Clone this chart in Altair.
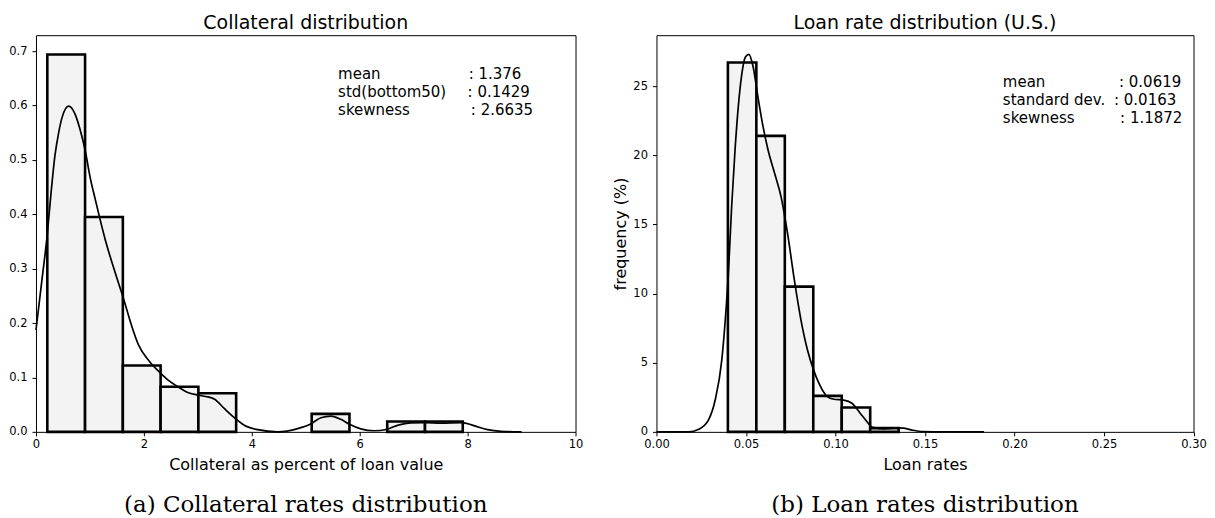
import altair as alt
import pandas as pd

SANS = "DejaVu Sans"
SERIF = "DejaVu Serif"

# ---------------- Left panel: collateral distribution ----------------
coll_bin_lo = [0.21, 0.91, 1.61, 2.31, 3.01, 5.11, 6.51, 7.21]
coll_bin_hi = [0.91, 1.61, 2.31, 3.01, 3.71, 5.81, 7.21, 7.91]
coll_density = [0.694, 0.395, 0.122, 0.083, 0.071, 0.033, 0.019, 0.019]

coll_kde_x = [0.0, 0.11, 0.206, 0.28, 0.35, 0.42, 0.48, 0.605, 0.73, 0.82,
              0.915, 1.0, 1.1, 1.285, 1.47, 1.61, 1.78, 1.9, 2.1, 2.31,
              2.45, 2.63, 2.8, 3.0, 3.15, 3.31, 3.49, 3.69, 3.86, 4.11,
              4.48, 4.85, 5.1, 5.28, 5.47, 5.65, 5.81, 6.02, 6.27, 6.49,
              6.7, 6.95, 7.2, 7.5, 7.9, 8.1, 8.37, 8.62, 9.0]
coll_kde_y = [0.187, 0.279, 0.36, 0.44, 0.507, 0.55, 0.577, 0.599, 0.583, 0.555,
              0.516, 0.47, 0.427, 0.353, 0.292, 0.249, 0.193, 0.16, 0.13, 0.108,
              0.095, 0.083, 0.073, 0.0676, 0.065, 0.06, 0.043, 0.025, 0.012, 0.004,
              0.0, 0.006, 0.015, 0.026, 0.029, 0.023, 0.014, 0.0055, 0.002, 0.0044,
              0.012, 0.0166, 0.017, 0.016, 0.017, 0.012, 0.004, 0.001, 0.0]

coll_stat_labels = ["mean", "std(bottom50)", "skewness"]
coll_stat_values = [": 1.376", ": 0.1429", ": 2.6635"]
coll_stat_label_x = [5.6, 5.6, 5.6]
coll_stat_value_x = [8.02, 8.0, 8.06]
coll_stat_y = [0.649, 0.6165, 0.583]

coll_x_ticks = [0, 2, 4, 6, 8, 10]
coll_y_ticks = [0.0, 0.1, 0.2, 0.3, 0.4, 0.5, 0.6, 0.7]

# ---------------- Right panel: loan rate distribution ----------------
rate_bin_lo = [0.0399, 0.0558, 0.0717, 0.0876, 0.1035, 0.1194]
rate_bin_hi = [0.0558, 0.0717, 0.0876, 0.1035, 0.1194, 0.1353]
rate_freq = [26.7, 21.4, 10.5, 2.6, 1.76, 0.27]

rate_kde_x = [0.0, 0.018, 0.0236, 0.0291, 0.0328, 0.0365, 0.0383, 0.0402, 0.042, 0.0439,
              0.0457, 0.0475, 0.0497, 0.0516, 0.054, 0.0567, 0.0595, 0.0623, 0.066, 0.0696,
              0.0733, 0.077, 0.0807, 0.0844, 0.0877, 0.0908, 0.0954, 0.0991, 0.1046, 0.1092,
              0.1138, 0.1175, 0.1203, 0.1267, 0.1341, 0.1378, 0.1424, 0.1488, 0.16, 0.183]
rate_kde_y = [0, 0, 0.19, 0.87, 2.3, 5.2, 7.85, 11.5, 16.3, 20.4,
              23.5, 25.7, 27.1, 27.3, 26.4, 24.2, 22.1, 20.4, 18.7, 17.0,
              14.3, 11.0, 8.1, 5.9, 4.5, 3.5, 2.55, 2.36, 2.3, 2.07,
              1.35, 0.75, 0.34, 0.22, 0.29, 0.27, 0.14, 0.02, 0, 0]

rate_stat_labels = ["mean", "standard dev.", "skewness"]
rate_stat_values = [": 0.0619", ": 0.0163", ": 1.1872"]
rate_stat_label_x = [0.1935, 0.1935, 0.1935]
rate_stat_value_x = [0.2584, 0.2556, 0.259]
rate_stat_y = [24.95, 23.63, 22.3]

rate_x_ticks = [0.0, 0.05, 0.10, 0.15, 0.20, 0.25, 0.30]
rate_y_ticks = [0, 5, 10, 15, 20, 25]

W_L, W_R, H = 540, 537.5, 397


def make_panel(bin_lo, bin_hi, heights, kx, ky, labels, values, lx, vx, sy,
               xdom, ydom, xaxis, yaxis, title, caption, w, h):
    bars = pd.DataFrame({"a": bin_lo, "b": bin_hi, "v": heights})
    kde = pd.DataFrame({"a": kx, "v": ky})
    stats = pd.DataFrame({"label": labels, "value": values, "a": lx, "c": vx, "v": sy})
    cap = pd.DataFrame({"caption": [caption]})

    xs = alt.Scale(domain=xdom, nice=False, zero=False)
    ys = alt.Scale(domain=ydom, nice=False, zero=False)

    X = lambda f: alt.X(f, type="quantitative", scale=xs, axis=xaxis)
    Y = lambda f: alt.Y(f, type="quantitative", scale=ys, axis=yaxis)

    rects = alt.Chart(bars).mark_rect(
        fill="#f3f3f3", stroke="black", strokeWidth=2.6, opacity=1
    ).encode(x=X("a"), x2="b", y=Y("v"), y2=alt.datum(0))

    line = alt.Chart(kde).mark_line(
        color="black", strokeWidth=1.7, interpolate="monotone"
    ).encode(x=X("a"), y=Y("v"))

    lab = alt.Chart(stats).mark_text(
        align="left", baseline="alphabetic", font=SANS, fontSize=15, color="black"
    ).encode(x=X("a"), y=Y("v"), text="label:N")

    val = alt.Chart(stats).mark_text(
        align="left", baseline="alphabetic", font=SANS, fontSize=15, color="black"
    ).encode(x=X("c"), y=Y("v"), text="value:N")

    capt = alt.Chart(cap).mark_text(
        align="center", baseline="alphabetic", font=SERIF, fontSize=23, color="black"
    ).encode(x=alt.value(w / 2), y=alt.value(h + 80), text="caption:N")

    return alt.layer(rects, line, lab, val, capt).properties(
        width=w, height=h, title=title
    )


left = make_panel(
    coll_bin_lo, coll_bin_hi, coll_density, coll_kde_x, coll_kde_y,
    coll_stat_labels, coll_stat_values, coll_stat_label_x, coll_stat_value_x, coll_stat_y,
    [0, 10], [0, 0.7295],
    alt.Axis(values=coll_x_ticks, format="d", title="Collateral as percent of loan value",
             titleY=37.3, titleBaseline="alphabetic"),
    alt.Axis(values=coll_y_ticks, format=".1f", title=None),
    "Collateral distribution", "(a) Collateral rates distribution", W_L, H,
)

right = make_panel(
    rate_bin_lo, rate_bin_hi, rate_freq, rate_kde_x, rate_kde_y,
    rate_stat_labels, rate_stat_values, rate_stat_label_x, rate_stat_value_x, rate_stat_y,
    [0, 0.3], [0, 28.68],
    alt.Axis(values=rate_x_ticks, format=".2f", title="Loan rates",
             titleY=37.3, titleBaseline="alphabetic"),
    alt.Axis(values=rate_y_ticks, format="d", title="frequency (%)",
             titleX=-31.3, titleBaseline="alphabetic"),
    "Loan rate distribution (U.S.)", "(b) Loan rates distribution", W_R, H,
)

chart = (
    alt.hconcat(left, right, spacing=28)
    .properties(padding={"left": 0, "top": 5, "right": 0, "bottom": 0})
    .configure_view(stroke="black", strokeWidth=1)
    .configure_axis(
        domain=False, grid=False, ticks=True, tickColor="black", tickSize=4, tickWidth=1,
        labelColor="black", labelFont=SANS, labelFontSize=11.5,
        labelFlush=False, labelOverlap=False,
        titleColor="black", titleFont=SANS, titleFontSize=16, titleFontWeight="normal",
    )
    .configure_axisX(labelPadding=3)
    .configure_axisY(labelPadding=5)
    .configure_title(
        font=SANS, fontSize=19, fontWeight="normal", color="black",
        offset=2, baseline="alphabetic", anchor="middle",
    )
)

chart.save("out.html", embed_options={"renderer": "svg", "actions": False})
